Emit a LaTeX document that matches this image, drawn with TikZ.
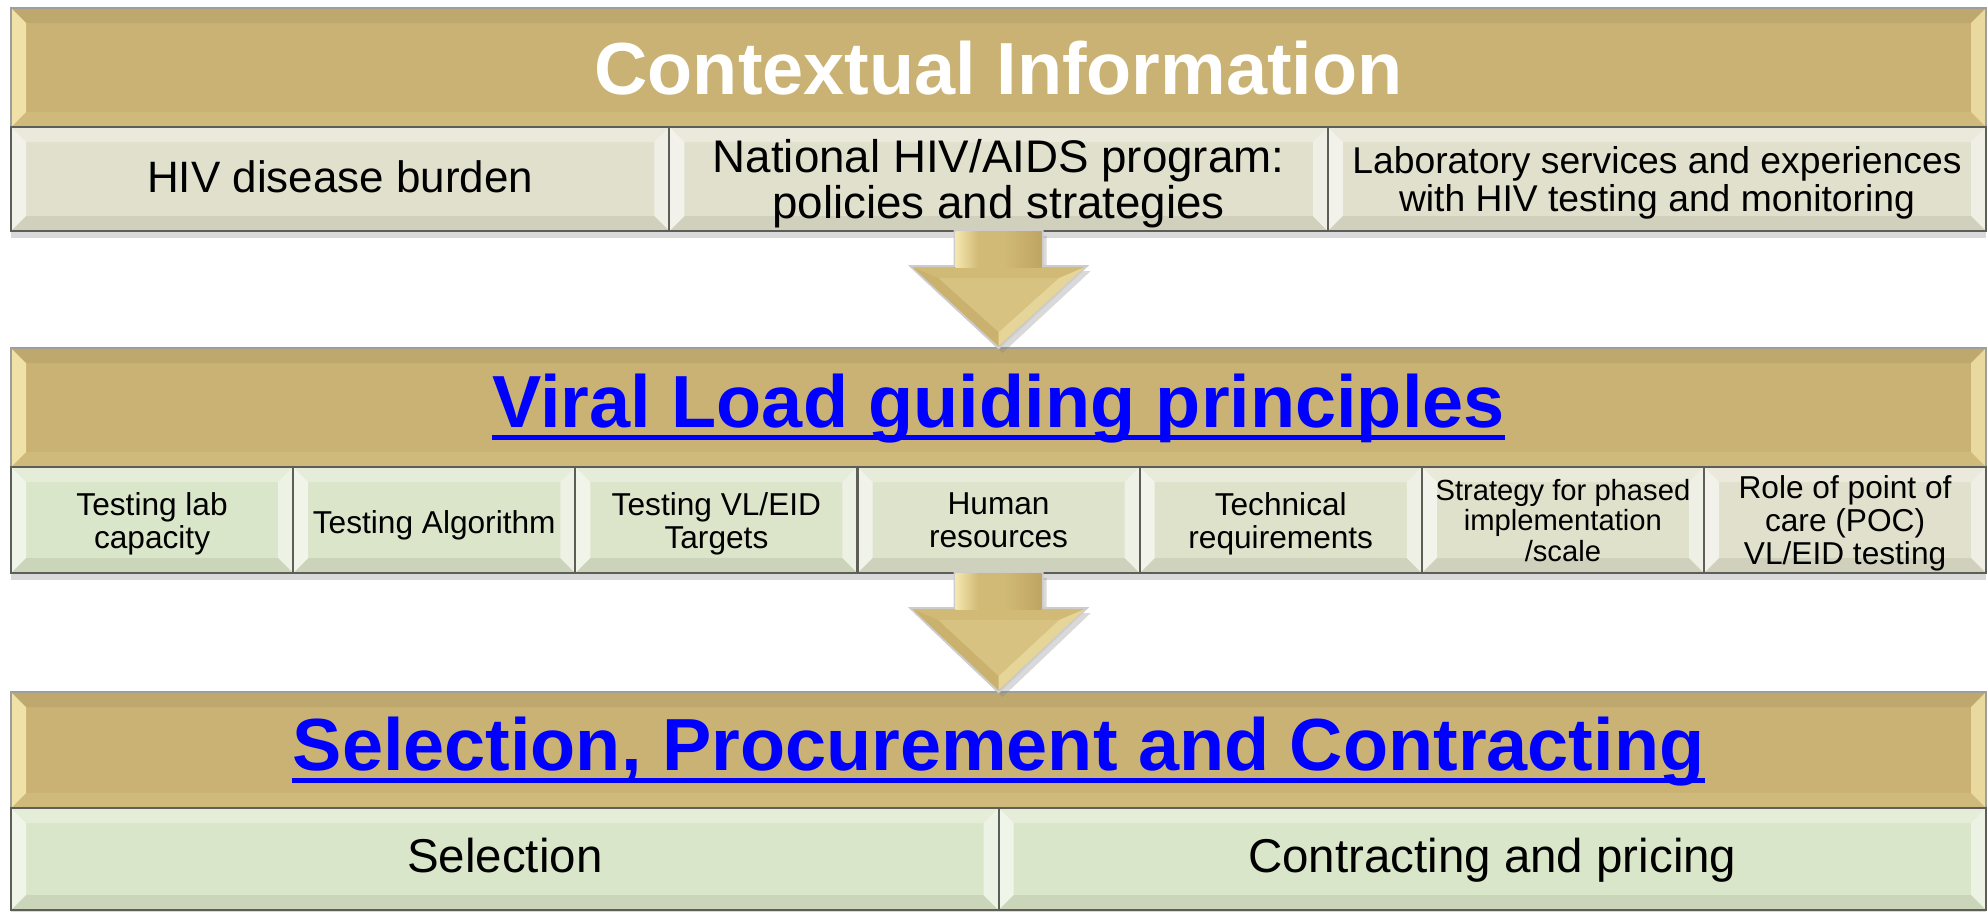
\documentclass[tikz,border=0pt]{standalone}
\usepackage{fontspec}
\setmainfont{Liberation Sans}
\usetikzlibrary{calc}
\usetikzlibrary{positioning}
\usetikzlibrary{shadows}
\definecolor{BandGold}{HTML}{C9B273}
\definecolor{ArrowGold}{HTML}{D1B976}
\definecolor{PaleGold}{HTML}{F4E7AE}
\definecolor{DeepGold}{HTML}{BFA562}
\definecolor{CellGrey}{HTML}{E1E0CC}
\definecolor{CellGreen}{HTML}{DAE6C9}
\definecolor{LinkBlue}{HTML}{0000FF}
\definecolor{EdgeGrey}{HTML}{5E5E58}
\newcommand{\bevw}{0.15cm}
\tikzset{
  bevel/.style n args={4}{path picture={
      \fill[#1] (path picture bounding box.north west) -- ([shift={(\bevw,-\bevw)}]path picture bounding box.north west)
        -- ([shift={(\bevw,\bevw)}]path picture bounding box.south west) -- (path picture bounding box.south west) -- cycle;
      \fill[#2] (path picture bounding box.north west) -- (path picture bounding box.north east)
        -- ([shift={(-\bevw,-\bevw)}]path picture bounding box.north east) -- ([shift={(\bevw,-\bevw)}]path picture bounding box.north west) -- cycle;
      \fill[#3] (path picture bounding box.north east) -- (path picture bounding box.south east)
        -- ([shift={(-\bevw,\bevw)}]path picture bounding box.south east) -- ([shift={(-\bevw,-\bevw)}]path picture bounding box.north east) -- cycle;
      \fill[#4] (path picture bounding box.south west) -- ([shift={(\bevw,\bevw)}]path picture bounding box.south west)
        -- ([shift={(-\bevw,\bevw)}]path picture bounding box.south east) -- (path picture bounding box.south east) -- cycle;
    }},
  band/.style={draw=EdgeGrey!60, line width=0.6pt, fill=BandGold, inner sep=0pt, outer sep=0pt,
    minimum width=19.74cm, anchor=north west,
    bevel={PaleGold,opacity=.9}{black,opacity=.05}{PaleGold,opacity=.75}{PaleGold,opacity=.15}},
  cell/.style={draw=EdgeGrey, line width=0.6pt, inner xsep=2pt, inner ysep=1pt, outer sep=0pt, align=center,
    bevel={white,opacity=.6}{white,opacity=.3}{white,opacity=.5}{black,opacity=.07},
    drop shadow={shadow xshift=0cm, shadow yshift=-0.07cm, opacity=.3}},
  oneline/.style={text height=1.9ex, text depth=0.45ex},
  cellone/.style={cell, fill=CellGrey, minimum width=6.58cm, minimum height=1.04cm},
  celltwo/.style={cell, minimum width=2.82cm, minimum height=1.06cm, text depth=0pt, font=\fontsize{9}{9.4}\selectfont},
  cellthree/.style={cell, oneline, fill=CellGreen, minimum width=9.87cm, minimum height=1.02cm, font=\fontsize{13.5}{14}\selectfont},
  titletext/.style={font=\fontsize{21}{24}\selectfont\bfseries, inner sep=0pt, anchor=base},
  linkline/.style={LinkBlue, line width=1.4pt}
}
% block arrow from one row down to the next band
\newcommand{\goldarrow}[2]{%
  \fill[ArrowGold, draw=gray!40, line width=0.6pt, drop shadow={shadow xshift=0.04cm, shadow yshift=-0.05cm, opacity=.3}]
    ([xshift=-0.44cm]#1) -- ([shift={(-0.44cm,-0.35cm)}]#1) -- ([shift={(-0.88cm,-0.35cm)}]#1) -- (#2)
    -- ([shift={(0.88cm,-0.35cm)}]#1) -- ([shift={(0.44cm,-0.35cm)}]#1) -- ([xshift=0.44cm]#1) -- cycle;
  \fill[DeepGold!40!ArrowGold] ([shift={(-0.86cm,-0.36cm)}]#1) -- ([shift={(-0.6cm,-0.47cm)}]#1) -- ([yshift=0.16cm]#2) -- ([yshift=0.02cm]#2) -- cycle;
  \fill[PaleGold!60!ArrowGold] ([yshift=0.02cm]#2) -- ([yshift=0.16cm]#2) -- ([shift={(0.6cm,-0.47cm)}]#1) -- ([shift={(0.86cm,-0.36cm)}]#1) -- cycle;
  \fill[ArrowGold!80!PaleGold] ([shift={(-0.6cm,-0.47cm)}]#1) -- ([shift={(0.6cm,-0.47cm)}]#1) -- ([yshift=0.16cm]#2) -- cycle;
  \shade[left color=PaleGold, right color=ArrowGold] ([xshift=-0.43cm]#1) rectangle ([shift={(-0.2cm,-0.36cm)}]#1);
  \fill[ArrowGold] ([xshift=-0.2cm]#1) rectangle ([shift={(0.05cm,-0.36cm)}]#1);
  \shade[left color=ArrowGold, middle color=PaleGold, right color=DeepGold] ([xshift=0.05cm]#1) rectangle ([shift={(0.43cm,-0.36cm)}]#1);
}

\begin{document}
\begin{tikzpicture}[x=0.01cm, y=-0.01cm]
  \useasboundingbox (0,0) rectangle (1987,912);

  % contextual information
  \node[band, minimum height=1.19cm] (ctx) at (11,8) {};
  \node[titletext, text=white] (ctxtext) at ([yshift=-0.27cm]ctx.center) {Contextual Information};
  \node[cellone, oneline, anchor=north west, font=\fontsize{12.5}{13}\selectfont] (burden) at (ctx.south west) {HIV disease burden};
  \node[cellone, right=0pt of burden, font=\fontsize{13}{12}\selectfont, text depth=0pt] (program) {National HIV/AIDS program:\\policies and strategies};
  \node[cellone, right=0pt of program, font=\fontsize{10.6}{11}\selectfont, text depth=0pt] (labsvc) {Laboratory services and experiences\\with HIV testing and monitoring};

  % viral load guiding principles
  \node[band, minimum height=1.19cm] (vlg) at (11,348) {};
  \node[titletext, text=LinkBlue] (vlgtext) at ([yshift=-0.2cm]vlg.center) {Viral Load guiding principles};
  \draw[linkline] ([yshift=-0.1cm]vlgtext.base west) -- ([yshift=-0.1cm]vlgtext.base east);
  \node[celltwo, fill=CellGreen, anchor=north west] (labcap) at (vlg.south west) {Testing lab\\capacity};
  \node[celltwo, oneline, fill=CellGreen!83!CellGrey, right=0pt of labcap] (algo) {Testing Algorithm};
  \node[celltwo, fill=CellGreen!67!CellGrey, right=0pt of algo] (targets) {Testing VL/EID\\Targets};
  \node[celltwo, fill=CellGreen!50!CellGrey, right=0pt of targets] (hr) {Human\\resources};
  \node[celltwo, fill=CellGreen!33!CellGrey, right=0pt of hr] (techreq) {Technical\\requirements};
  \node[celltwo, fill=CellGreen!17!CellGrey, right=0pt of techreq, font=\fontsize{8.3}{8.7}\selectfont] (phased) {Strategy for phased\\implementation\\/scale};
  \node[celltwo, fill=CellGrey, right=0pt of phased] (poc) {Role of point of\\care (POC)\\VL/EID testing};

  % selection, procurement and contracting
  \node[band, minimum height=1.16cm] (spc) at (11,692) {};
  \node[titletext, text=LinkBlue] (spctext) at ([yshift=-0.2cm]spc.center) {Selection, Procurement and Contracting};
  \draw[linkline] ([yshift=-0.1cm]spctext.base west) -- ([yshift=-0.1cm]spctext.base east);
  \node[cellthree, anchor=north west] (selection) at (spc.south west) {Selection};
  \node[cellthree, right=0pt of selection] (pricing) {Contracting and pricing};

  % arrows between the stages
  \goldarrow{program.south}{vlg.north}
  \goldarrow{hr.south}{spc.north}
\end{tikzpicture}
\end{document}
